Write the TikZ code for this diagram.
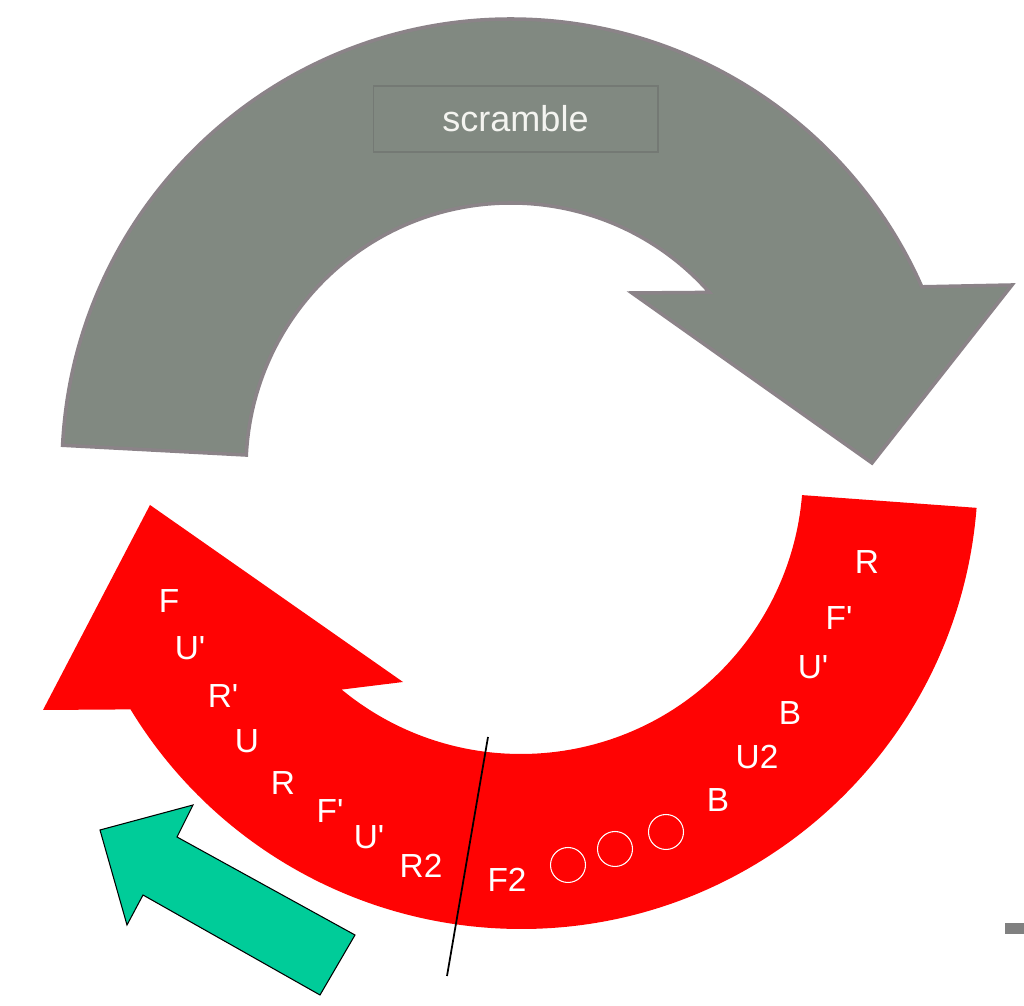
\documentclass[tikz,border=0pt]{standalone}
\usepackage{fontspec}
\setmainfont{Liberation Sans}
\definecolor{scrgray}{RGB}{129,137,129}
\definecolor{scredge}{RGB}{139,131,136}
\definecolor{boxedge}{RGB}{116,121,116}
\definecolor{solvered}{RGB}{255,3,3}
\definecolor{hintgreen}{RGB}{0,204,153}
\definecolor{txtwhite}{RGB}{244,244,240}
\newcommand{\mvprime}{\textquotesingle}

\begin{document}
\begin{tikzpicture}[
      x=0.02cm, y=0.02cm,
      scramblearrow/.style={fill=scrgray, draw=scredge, line width=2pt, line join=miter},
      solvearrow/.style={fill=solvered},
      hintarrow/.style={fill=hintgreen, draw=black, line width=0.6pt},
      labelbox/.style={rectangle, draw=boxedge, line width=0.6pt, text=txtwhite,
          minimum width=5.7cm, minimum height=1.32cm,
          font=\fontsize{20.5}{24}\selectfont},
      move/.style={text=white, inner sep=0pt,
          font=\fontsize{19}{22}\selectfont},
      blank/.style={circle, draw=white, line width=0.6pt, minimum size=0.7cm, inner sep=0pt},
      cutline/.style={draw=black, line width=1pt}
    ]
    \useasboundingbox (0,0) rectangle (1024,1006);

    \begin{scope}[shift={(511,538)}]
      \filldraw[scramblearrow] (177.1:449) arc[start angle=177.1, end angle=23.8, radius=449]
        -- (501,183) -- (361,5) -- (121,175)
        -- (41.5:265) arc[start angle=41.5, end angle=177.2, radius=265] -- cycle;
    \end{scope}
    \node[labelbox] (scr) at (515.5,887) {scramble};

    \begin{scope}[shift={(521,534)}]
      \fill[solvearrow] (-4.7:282) -- (-4.5:457) arc[start angle=-4.5, end angle=-148.7, radius=457]
        -- (-478,-238) -- (-371,-33) -- (-118,-210)
        -- (-129.5:282) arc[start angle=-129.5, end angle=-4.7, radius=282] -- cycle;
    \end{scope}

    \filldraw[hintarrow] (100,176) -- (193,201) -- (177,169) -- (355,71)
      -- (320,11) -- (143,111) -- (127,81) -- cycle;

    \node[move] (l1) at (169,405) {F};
    \node[move] (l2) at (190,358) {U\mvprime};
    \node[move] (l3) at (223,310) {R\mvprime};
    \node[move] (l4) at (247,265) {U};
    \node[move] (l5) at (283,223) {R};
    \node[move] (l6) at (330,195) {F\mvprime};
    \node[move] (l7) at (369,169) {U\mvprime};
    \node[move] (l8) at (421,140) {R2};

    \node[move] (f2) at (507,126) {F2};
    \node[blank] (c1) at (568,141) {};
    \node[blank] (c2) at (615,157) {};
    \node[blank] (c3) at (666,174) {};

    \node[move] (r1) at (718,206) {B};
    \node[move] (r2) at (757,249) {U2};
    \node[move] (r3) at (790,293) {B};
    \node[move] (r4) at (813,339) {U\mvprime};
    \node[move] (r5) at (839,388) {F\mvprime};
    \node[move] (r6) at (867,444) {R};

    \coordinate (cuttop) at (488,269);
    \coordinate (cutbot) at (447,30);
    \draw[cutline] (cuttop) -- (cutbot);

    \fill[gray] (1005,72) rectangle (1024,83);
  \end{tikzpicture}
\end{document}
